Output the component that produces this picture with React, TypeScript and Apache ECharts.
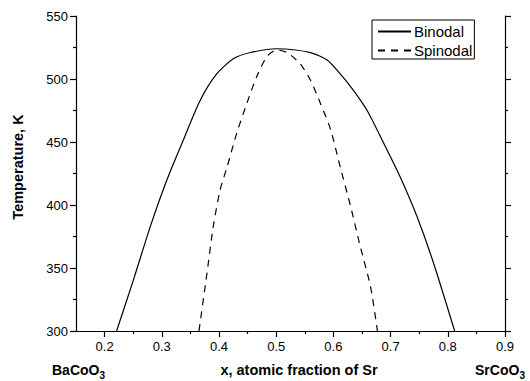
import React, { useEffect, useRef } from "react";
import * as echarts from "echarts";

// Binodal (solid) and spinodal (dashed) boundaries of the Ba1-xSrxCoO3 miscibility gap
const binodalX = [0.221, 0.250, 0.280, 0.309, 0.338, 0.367, 0.396, 0.425, 0.455, 0.501, 0.560, 0.589, 0.612, 0.635, 0.659, 0.688, 0.717, 0.746, 0.775, 0.812];
const binodalT = [300, 340, 383, 420, 452, 483, 504, 516, 521, 524, 521, 515, 504, 491, 475, 449, 422, 391, 354, 300];

const spinodalX = [0.365, 0.379, 0.390, 0.402, 0.414, 0.431, 0.449, 0.466, 0.484, 0.501, 0.519, 0.542, 0.560, 0.577, 0.595, 0.612, 0.630, 0.647, 0.665, 0.677];
const spinodalT = [300, 346, 383, 412, 430, 457, 481, 502, 518, 523, 521, 512, 499, 481, 460, 430, 399, 367, 335, 300];

const xMajorTicks = [0.2, 0.3, 0.4, 0.5, 0.6, 0.7, 0.8, 0.9];
const xMinorTicks = [0.25, 0.35, 0.45, 0.55, 0.65, 0.75, 0.85];

const FONT = "Liberation Sans, Arial, sans-serif";
const INK = "#000";

const pairs = (xs: number[], ys: number[]) => xs.map((x, i) => [x, ys[i]]);

export default function App() {
  const ref = useRef<HTMLDivElement>(null);

  useEffect(() => {
    if (!ref.current) return;
    const chart = echarts.init(ref.current, undefined, { renderer: "svg" });
    const axisLine = { show: true, lineStyle: { color: INK, width: 1.2 } };
    const tickStyle = { color: INK, width: 1.2 };

    chart.setOption({
      animation: false,
      backgroundColor: "#fff",
      grid: { left: 76, right: 25, top: 16, bottom: 50, containLabel: false },
      legend: {
        data: ["Binodal", "Spinodal"],
        orient: "vertical",
        left: 372,
        top: 20,
        itemWidth: 33,
        itemHeight: 10,
        itemGap: 4,
        padding: [4, 2, 1, 5],
        borderColor: INK,
        borderWidth: 1,
        borderRadius: 0,
        itemStyle: { opacity: 0 },
        textStyle: { fontFamily: FONT, fontSize: 15, color: INK, padding: [0, 0, 0, -2] },
      },
      xAxis: [
        {
          type: "value",
          min: 0.15,
          max: 0.9,
          position: "bottom",
          axisLine,
          axisTick: { show: true, customValues: xMajorTicks, length: 6, lineStyle: tickStyle },
          axisLabel: {
            show: true,
            customValues: xMajorTicks,
            formatter: (v: number) => v.toFixed(1),
            fontFamily: FONT,
            fontSize: 13,
            color: INK,
            margin: 9,
          },
          splitLine: { show: false },
        },
        {
          type: "value",
          min: 0.15,
          max: 0.9,
          position: "bottom",
          axisLine: { show: false },
          axisTick: { show: true, customValues: xMinorTicks, length: 3, lineStyle: tickStyle },
          axisLabel: { show: false },
          splitLine: { show: false },
        },
      ],
      yAxis: [
        {
          type: "value",
          min: 300,
          max: 550,
          interval: 50,
          position: "left",
          axisLine,
          axisTick: { show: true, length: 6, lineStyle: tickStyle },
          minorTick: { show: true, splitNumber: 2, length: 3, lineStyle: tickStyle },
          axisLabel: { fontFamily: FONT, fontSize: 13, color: INK, margin: 8 },
          splitLine: { show: false },
          minorSplitLine: { show: false },
        },
        {
          type: "value",
          min: 300,
          max: 550,
          interval: 50,
          position: "right",
          axisLine,
          axisTick: { show: true, length: 6, lineStyle: tickStyle },
          minorTick: { show: true, splitNumber: 2, length: 3, lineStyle: tickStyle },
          axisLabel: { show: false },
          splitLine: { show: false },
          minorSplitLine: { show: false },
        },
      ],
      series: [
        {
          name: "Binodal",
          type: "line",
          xAxisIndex: 0,
          yAxisIndex: 0,
          data: pairs(binodalX, binodalT),
          symbol: "none",
          smooth: 0.25,
          lineStyle: { color: INK, width: 1.2, type: "solid" },
          itemStyle: { color: INK },
        },
        {
          name: "Spinodal",
          type: "line",
          xAxisIndex: 0,
          yAxisIndex: 0,
          data: pairs(spinodalX, spinodalT),
          symbol: "none",
          smooth: 0.25,
          lineStyle: { color: INK, width: 1.2, type: [7, 6] },
          itemStyle: { color: INK },
        },
      ],
      graphic: [
        {
          type: "text",
          x: 18,
          y: 167,
          rotation: Math.PI / 2,
          style: {
            text: "Temperature, K",
            fontFamily: FONT,
            fontWeight: "bold",
            fontSize: 14.5,
            fill: INK,
            align: "center",
            verticalAlign: "middle",
          },
        },
        {
          type: "text",
          x: 299,
          y: 370,
          style: {
            text: "x, atomic fraction of Sr",
            fontFamily: FONT,
            fontWeight: "bold",
            fontSize: 14.5,
            fill: INK,
            align: "center",
            verticalAlign: "middle",
          },
        },
        {
          type: "text",
          x: 52,
          y: 370,
          style: { text: "BaCoO", fontFamily: FONT, fontWeight: "bold", fontSize: 14, fill: INK, align: "left", verticalAlign: "middle" },
        },
        {
          type: "text",
          x: 99.5,
          y: 375,
          style: { text: "3", fontFamily: FONT, fontWeight: "bold", fontSize: 10, fill: INK, align: "left", verticalAlign: "middle" },
        },
        {
          type: "text",
          x: 475,
          y: 370,
          style: { text: "SrCoO", fontFamily: FONT, fontWeight: "bold", fontSize: 14, fill: INK, align: "left", verticalAlign: "middle" },
        },
        {
          type: "text",
          x: 519.5,
          y: 375,
          style: { text: "3", fontFamily: FONT, fontWeight: "bold", fontSize: 10, fill: INK, align: "left", verticalAlign: "middle" },
        },
      ],
    });

    return () => chart.dispose();
  }, []);

  return (
    <div
      ref={ref}
      style={{ position: "fixed", left: 0, top: 0, width: 530, height: 381, background: "#fff" }}
    />
  );
}
